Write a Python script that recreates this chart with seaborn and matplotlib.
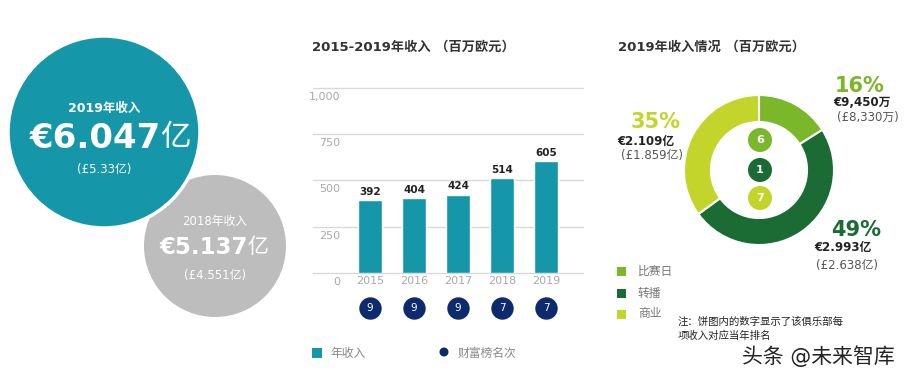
import matplotlib
matplotlib.use('Agg')
import matplotlib.pyplot as plt
import seaborn as sns
import pandas as pd
from matplotlib.patches import Circle, Rectangle

# ---------------- data ----------------
years = ['2015', '2016', '2017', '2018', '2019']
revenue = [392, 404, 424, 514, 605]
ranks = [9, 9, 9, 7, 7]
yticks = [0, 250, 500, 750, 1000]
ytick_labels = ['0', '250', '500', '750', '1,000']

segments = ['比赛日', '转播', '商业']
seg_pct = [16, 49, 35]
seg_eur = ['€9,450万', '€2.993亿', '€2.109亿']
seg_gbp = ['(£8,330万)', '(£2.638亿)', '(£1.859亿)']
seg_rank = [6, 1, 7]

rev2019_eur, rev2019_gbp = '€6.047', '(£5.33亿)'
rev2018_eur, rev2018_gbp = '€5.137', '(£4.551亿)'

# ---------------- style ----------------
sns.set_theme(style='white')
FONT = ['DejaVu Sans', 'Noto Sans CJK SC']
plt.rcParams['font.family'] = FONT

TEAL = '#1597a9'
NAVY = '#0c2a6c'
GREY = '#bdbdbd'
SEG_COLORS = ['#7ab72a', '#1b6c34', '#c3d52a']
TICK_GREY = '#a8a8a8'

W, H = 913, 372
fig = plt.figure(figsize=(W / 100, H / 100), dpi=100)
fig.patch.set_facecolor('white')


def px_axes(x0, y0, w, h):
    return fig.add_axes([x0 / W, 1 - (y0 + h) / H, w / W, h / H])


# overlay axes in pixel coordinates
bg = px_axes(0, 0, W, H)
bg.set_xlim(0, W)
bg.set_ylim(H, 0)
bg.axis('off')

# ---------------- left circles ----------------
bg.add_patch(Circle((215, 246), 71, fc=GREY, ec='none', zorder=2))
bg.add_patch(Circle((104, 132), 96, fc=TEAL, ec='white', lw=2.5, zorder=3))

bg.text(104, 108, '2019年收入', color='white', fontsize=9, fontweight='bold',
        ha='center', va='center', zorder=4)
bg.text(161, 138, rev2019_eur, color='white', fontsize=24.5, fontweight='bold',
        ha='right', va='center', zorder=4)
bg.text(160, 138, '亿', color='white', fontsize=22, ha='left', va='center', zorder=4)
bg.text(104, 170, rev2019_gbp, color='white', fontsize=8.5, ha='center', va='center', zorder=4)

bg.text(215, 222, '2018年收入', color='white', fontsize=8.5,
        ha='center', va='center', zorder=4)
bg.text(248, 247, rev2018_eur, color='white', fontsize=16.5, fontweight='bold',
        ha='right', va='center', zorder=4)
bg.text(247, 247, '亿', color='white', fontsize=15, ha='left', va='center', zorder=4)
bg.text(215, 275, rev2018_gbp, color='white', fontsize=8.5, ha='center', va='center', zorder=4)

# ---------------- bar chart ----------------
bg.text(312, 47, '2015-2019年收入 （百万欧元）', fontsize=9.5, fontweight='bold',
        color='#333333', ha='left', va='center')

ax = px_axes(313, 80, 270, 193)
ax.set_facecolor('none')
df = pd.DataFrame({'year': years, 'revenue': revenue})
for t in yticks:
    ax.axhline(t, color='#d9d9d9', lw=1, zorder=0, clip_on=False)
sns.barplot(data=df, x='year', y='revenue', color=TEAL, saturation=1,
            width=0.55, ax=ax, zorder=2)
ax.set_xlim(-1.295, 4.84)
ax.set_ylim(0, 1043)
for s in ax.spines.values():
    s.set_visible(False)
ax.set_yticks([])
ax.set_xlabel('')
ax.set_ylabel('')
ax.tick_params(axis='x', length=0, pad=2.5, labelsize=8, labelcolor=TICK_GREY)
for t, lab in zip(yticks, ytick_labels):
    ax.text(-0.68, t - 48, lab, ha='right', va='center', color=TICK_GREY, fontsize=8)
for i, v in enumerate(revenue):
    ax.text(i, v + 18, str(v), ha='center', va='bottom', fontsize=7.5,
            fontweight='bold', color='#222222')

ax.scatter(range(len(ranks)), [-190] * len(ranks), s=260, color=NAVY,
           clip_on=False, zorder=3, linewidths=0)
for i, r in enumerate(ranks):
    ax.text(i, -190, str(r), ha='center', va='center', color='white',
            fontsize=7.5, clip_on=False, zorder=4)

# legend of bar chart
bg.add_patch(Rectangle((312, 348), 10, 10, fc=TEAL, ec='none'))
bg.text(330, 353, '年收入', fontsize=8.5, color='#888888', ha='left', va='center')
bg.add_patch(Circle((444, 352), 4.5, fc=NAVY, ec='none'))
bg.text(458, 353, '财富榜名次', fontsize=8.5, color='#888888', ha='left', va='center')

# ---------------- donut ----------------
bg.text(618, 47, '2019年收入情况 （百万欧元）', fontsize=9.5, fontweight='bold',
        color='#333333', ha='left', va='center')

dax = px_axes(683, 94, 152, 152)
dax.set_facecolor('none')
dax.pie(seg_pct, colors=SEG_COLORS, startangle=90, counterclock=False, radius=1,
        wedgeprops=dict(width=0.36, edgecolor='white', linewidth=1.5))
dax.set_xlim(-1.013, 1.013)
dax.set_ylim(-1.013, 1.013)
dax.set_aspect('equal')

for (cy, c, r) in zip([140, 170, 198], SEG_COLORS, seg_rank):
    bg.add_patch(Circle((760, cy), 12, fc=c, ec='none', zorder=3))
    bg.text(760, cy, str(r), color='white', fontsize=8, fontweight='bold',
            ha='center', va='center', zorder=4)

label_pos = [  # (x pct, y pct, x eur, y eur, x gbp, y gbp)
    (860, 86, 862, 103, 868, 117),
    (856, 230, 843, 248, 847, 265),
    (656, 122, 646, 141, 652, 155),
]
for (xp, yp, xe, ye, xg, yg), p, e, g, c in zip(label_pos, seg_pct, seg_eur, seg_gbp, SEG_COLORS):
    bg.text(xp, yp, f'{p}%', color=c, fontsize=15, fontweight='bold', ha='center', va='center')
    bg.text(xe, ye, e, color='#222222', fontsize=8.5, fontweight='bold', ha='center', va='center')
    bg.text(xg, yg, g, color='#555555', fontsize=8.5, ha='center', va='center')

for (ly, c, name) in zip([271, 293, 314], SEG_COLORS, segments):
    bg.add_patch(Rectangle((617, ly - 4.5), 9, 9, fc=c, ec='none'))
    bg.text(638, ly, name, fontsize=8.5, color='#777777', ha='left', va='center')

bg.text(678, 322, '注：饼图内的数字显示了该俱乐部每', fontsize=7.5, color='#222222',
        ha='left', va='center')
bg.text(678, 336, '项收入对应当年排名', fontsize=7.5, color='#222222',
        ha='left', va='center')
bg.text(742, 356, '头条 @未来智库', fontsize=15, color='#222222', ha='left', va='center')

fig.savefig('out.png', dpi=100, facecolor='white')
